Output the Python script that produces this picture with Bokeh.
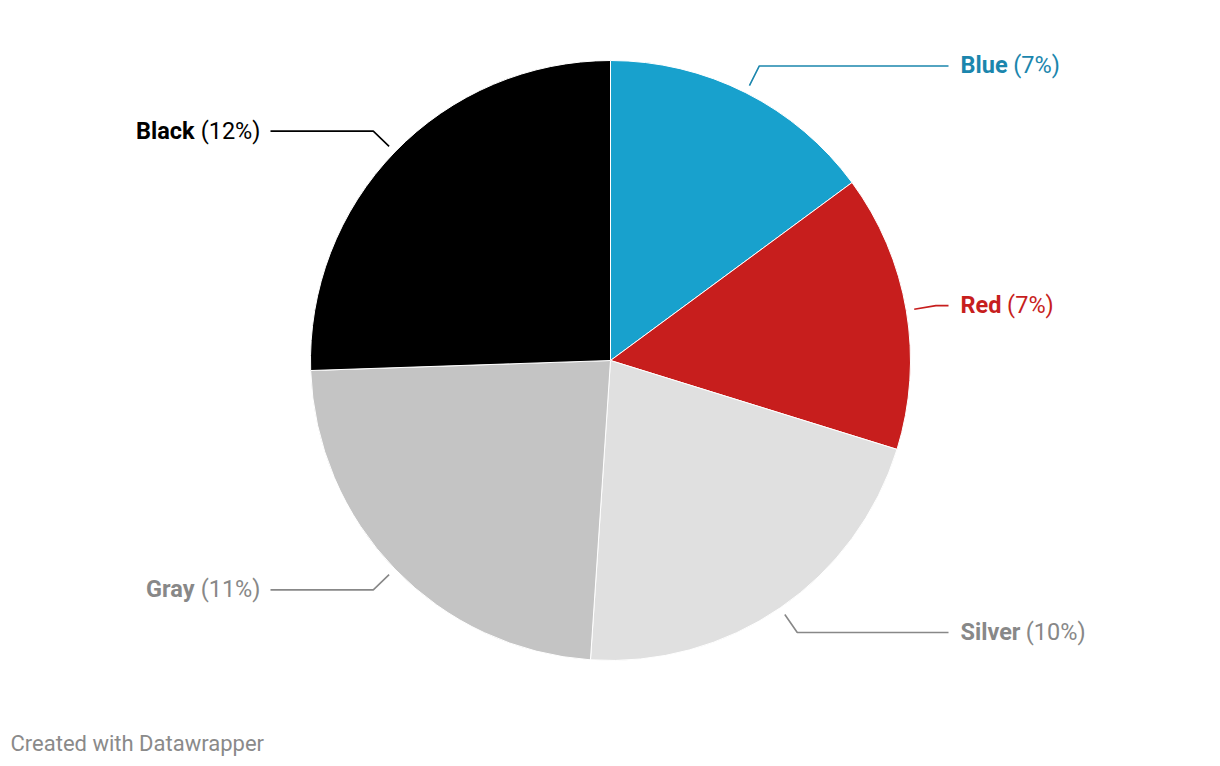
import math
from bokeh.plotting import figure
from bokeh.models import Range1d
from bokeh.embed import file_html
from bokeh.resources import INLINE
from bokeh.core.properties import value

# ---- data ----
categories = ["Blue", "Red", "Silver", "Gray", "Black"]
values = [7, 7, 10, 11, 12]
slice_colors = ["#18a1cd", "#c71e1d", "#e0e0e0", "#c4c4c4", "#000000"]
label_colors = ["#1b86ad", "#c71e1d", "#888888", "#888888", "#000000"]
footer_text = "Created with Datawrapper"

# ---- layout (page pixel coords, y measured upward from bottom) ----
W, H = 1220, 766
CX, CY, R = 610, 406, 300
R_IN, R_ELBOW = 308, 330
RIGHT_LINE_END, RIGHT_TEXT_X = 948, 960
LEFT_LINE_END, LEFT_TEXT_X = 260, 260
FS = 23.5
FONT = "Roboto"

# approximate Roboto advance widths (em)
REG = {"(": .342, ")": .348, "%": .733, " ": .26}
for d in "0123456789":
    REG[d] = .562
BOLD = {"a": .547, "c": .524, "d": .563, "e": .534, "i": .262, "k": .527, "l": .262,
        "r": .353, "u": .555, "v": .501, "y": .487, "B": .632, "R": .627, "S": .604,
        "G": .663}


def tw(s, table):
    return sum(table.get(c, .55) for c in s) * FS


p = figure(width=W, height=H, x_range=Range1d(0, W), y_range=Range1d(0, H),
           output_backend="svg", toolbar_location=None, min_border=0,
           outline_line_color=None, background_fill_color="white",
           border_fill_color="white")
p.axis.visible = False
p.grid.visible = False

total = float(sum(values))
cum = 0.0
starts, ends, mids = [], [], []
for v in values:
    a1 = cum / total * 2 * math.pi
    cum += v
    a2 = cum / total * 2 * math.pi
    starts.append(math.pi / 2 - a1)
    ends.append(math.pi / 2 - a2)
    mids.append((a1 + a2) / 2)

p.wedge(x=[CX] * len(values), y=[CY] * len(values), radius=R,
        start_angle=starts, end_angle=ends, direction="clock",
        fill_color=slice_colors, line_color="white", line_width=1)

for name, v, m, col in zip(categories, values, mids, label_colors):
    sx, sy = math.sin(m), math.cos(m)
    x0, y0 = CX + R_IN * sx, CY + R_IN * sy
    x1, y1 = CX + R_ELBOW * sx, CY + R_ELBOW * sy
    right = m < math.pi
    xe = RIGHT_LINE_END if right else LEFT_LINE_END + 10
    p.line([x0, x1, xe], [y0, y1, y1], line_color=col, line_width=1.6)
    pct = f"({v}%)"
    ty = y1 + 0.5
    if right:
        nx = RIGHT_TEXT_X
        px = nx + tw(name, BOLD) + tw(" ", REG)
        p.text(x=[nx], y=[ty], text=[name], text_font=value(FONT), text_font_style="bold",
               text_font_size=f"{FS}px", text_color=col, text_align="left",
               text_baseline="alphabetic")
        p.text(x=[px], y=[ty], text=[pct], text_font=value(FONT),
               text_font_size=f"{FS}px", text_color=col, text_align="left",
               text_baseline="alphabetic")
    else:
        px = LEFT_TEXT_X
        nx = px - tw(pct, REG) - tw(" ", REG)
        p.text(x=[px], y=[ty], text=[pct], text_font=value(FONT),
               text_font_size=f"{FS}px", text_color=col, text_align="right",
               text_baseline="alphabetic")
        p.text(x=[nx], y=[ty], text=[name], text_font=value(FONT), text_font_style="bold",
               text_font_size=f"{FS}px", text_color=col, text_align="right",
               text_baseline="alphabetic")

p.text(x=[10], y=[23], text=[footer_text], text_font=value(FONT), text_font_size="22px",
       text_color="#8a8a8a", text_align="left", text_baseline="alphabetic")

open("out.html", "w").write(file_html(p, INLINE))
